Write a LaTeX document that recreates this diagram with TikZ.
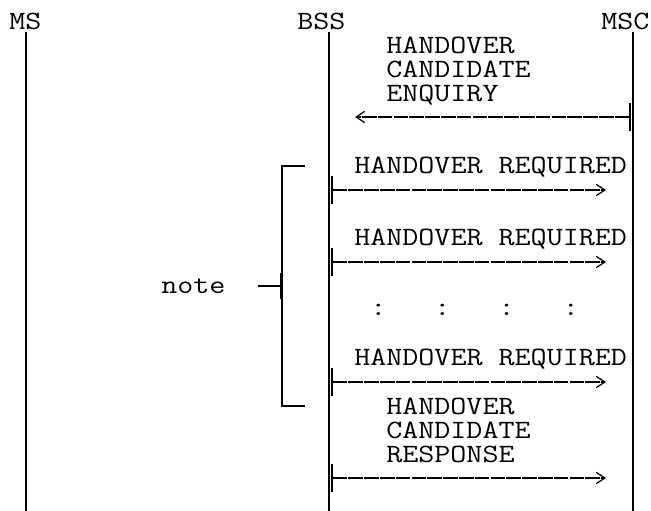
\documentclass[tikz,border=0pt]{standalone}
\usepackage{fontspec}
\setmonofont[FakeStretch=1.18]{Latin Modern Mono}
\usepackage{tikz}
\usetikzlibrary{arrows.meta}

\tikzset{
  lifeline/.style={line width=0.9},
  msgline/.style={line width=1.7, dash pattern=on 11pt off 0.85pt,
    {Bar[width=21pt,line width=1.6pt]}-{Straight Barb[length=6.5pt,width=8.5pt,line width=0.9pt]}},
  bracketline/.style={line width=1.1},
  notetick/.style={line width=1.6, {Bar[width=19.5pt,line width=1.6pt]}-},
  every node/.style={font=\fontsize{19.8}{18}\selectfont\ttfamily},
}

\begin{document}
\begin{tikzpicture}[x=0.75pt,y=0.75pt,yscale=-1,xscale=1]
\useasboundingbox (0,0) rectangle (651,511);

% Text Node
\draw (9,29) node (ms) [anchor=base west][inner sep=0pt] {MS};
% Text Node
\draw (297,29) node (bss) [anchor=base west][inner sep=0pt] {BSS};
% Text Node
\draw (601,29) node (msc) [anchor=base west][inner sep=0pt] {MSC};

%Lifelines
\coordinate (ms top) at (26,32);
\coordinate (ms bot) at (26,511);
\coordinate (bss top) at (329,32);
\coordinate (bss bot) at (329,511);
\coordinate (msc top) at (633,32);
\coordinate (msc bot) at (633,511);
\draw [lifeline] (ms top) -- (ms bot);
\draw [lifeline] (bss top) -- (bss bot);
\draw [lifeline] (msc top) -- (msc bot);

% Text Node
\draw (386,37) node (enq) [anchor=north west][inner sep=0pt][align=left] {HANDOVER\\CANDIDATE\\ENQUIRY};
%Message: enquiry
\coordinate (enq from) at (631,117);
\coordinate (enq to) at (355,117);
\draw [msgline] (enq from) -- (enq to);

% Text Node
\draw (354,173) node (req1) [anchor=base west][inner sep=0pt] {HANDOVER REQUIRED};
%Message: required 1
\coordinate (req1 from) at (331,190);
\coordinate (req1 to) at (606,190);
\draw [msgline] (req1 from) -- (req1 to);

% Text Node
\draw (354,245) node (req2) [anchor=base west][inner sep=0pt] {HANDOVER REQUIRED};
%Message: required 2
\coordinate (req2 from) at (331,262);
\coordinate (req2 to) at (606,262);
\draw [msgline] (req2 from) -- (req2 to);

% Text Node
\draw (370,315) node (dots) [anchor=base west][inner sep=0pt] {:~~~:~~~:~~~:};

% Text Node
\draw (354,365) node (req3) [anchor=base west][inner sep=0pt] {HANDOVER REQUIRED};
%Message: required 3
\coordinate (req3 from) at (331,382);
\coordinate (req3 to) at (606,382);
\draw [msgline] (req3 from) -- (req3 to);

% Text Node
\draw (386,398) node (resp) [anchor=north west][inner sep=0pt][align=left] {HANDOVER\\CANDIDATE\\RESPONSE};
%Message: response
\coordinate (resp from) at (331,478);
\coordinate (resp to) at (606,478);
\draw [msgline] (resp from) -- (resp to);

%Bracket and note
\coordinate (brk top) at (305,166);
\coordinate (brk bot) at (305,406);
\coordinate (brk mid) at (282,286);
\coordinate (note tip) at (258,286);
\draw [bracketline] (brk top) -- (282,166) -- (282,406) -- (brk bot);
\draw [notetick] (brk mid) -- (note tip);
% Text Node
\draw (161,293) node (note) [anchor=base west][inner sep=0pt] {note};
\end{tikzpicture}
\end{document}
